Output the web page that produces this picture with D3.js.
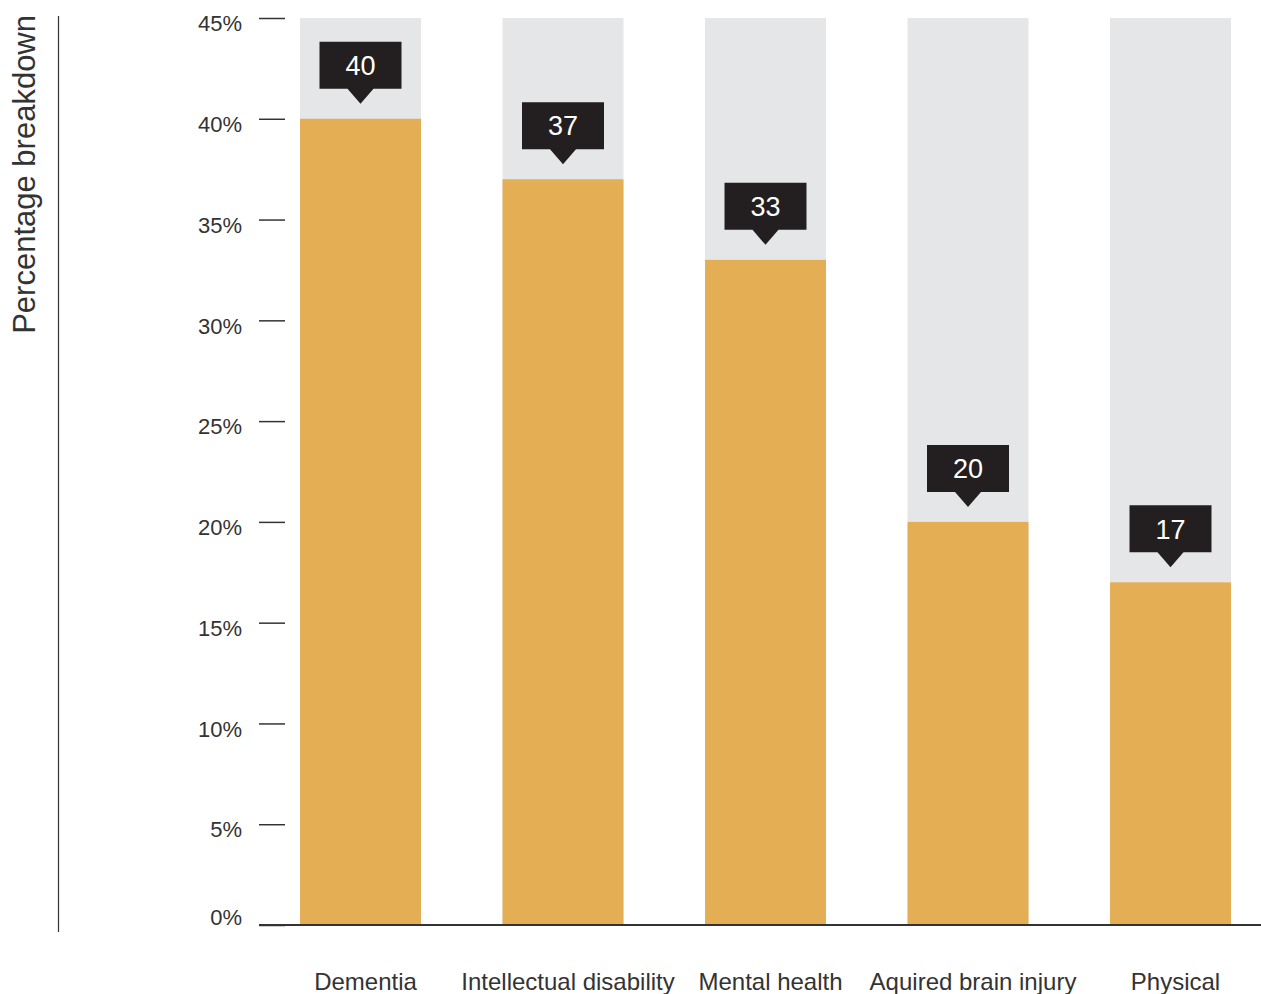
<!DOCTYPE html>
<html>
<head>
<meta charset="utf-8">
<script src="https://cdn.jsdelivr.net/npm/d3@7"></script>
<style>
  html, body { margin: 0; padding: 0; background: #fff; }
  svg text { font-family: "Helvetica Neue", "Liberation Sans", Arial, sans-serif; }
</style>
</head>
<body>
<svg id="chart" width="1261" height="994"></svg>
<script>
// Share of people by disability group
const categories = ["Dementia", "Intellectual disability", "Mental health", "Aquired brain injury", "Physical"];
const values = [40, 37, 33, 20, 17];
const tickValues = [0, 5, 10, 15, 20, 25, 30, 35, 40, 45];
const axisTitle = "Percentage breakdown";

const svg = d3.select("#chart");
const barColor = "#e4ae55";
const trackColor = "#e5e6e8";
const ink = "#333333";
const calloutColor = "#231f20";

const y = d3.scaleLinear().domain([0, 45]).range([925, 18]);
const x = d3.scaleBand().domain(categories)
  .range([259.5, 1271.5])
  .paddingInner(0.4025)
  .paddingOuter(0.2);

// background track behind each bar
svg.append("g").selectAll("rect").data(categories).join("rect")
  .attr("x", d => x(d))
  .attr("width", x.bandwidth())
  .attr("y", y(45))
  .attr("height", y(0) - y(45))
  .attr("fill", trackColor);

// value bars
svg.append("g").selectAll("rect").data(values).join("rect")
  .attr("x", (d, i) => x(categories[i]))
  .attr("width", x.bandwidth())
  .attr("y", d => y(d))
  .attr("height", d => y(0) - y(d))
  .attr("fill", barColor);

// y axis: short tick marks with percentage labels
const yAxis = d3.axisLeft(y)
  .tickValues(tickValues)
  .tickSize(26)
  .tickPadding(17)
  .tickFormat(d => d + "%");
const yg = svg.append("g").attr("transform", "translate(285,0)").call(yAxis);
yg.select(".domain").remove();
yg.selectAll(".tick line").attr("stroke", ink).attr("stroke-width", 1.5);
yg.selectAll(".tick text")
  .attr("fill", ink)
  .attr("font-size", 22)
  .attr("font-weight", 300)
  .attr("y", d => (d === 0 ? -8 : 5))
  .attr("dy", "0.35em");

// baseline
svg.append("line")
  .attr("x1", 259).attr("x2", 1261)
  .attr("y1", y(0)).attr("y2", y(0))
  .attr("stroke", ink).attr("stroke-width", 2.2);

// left rule next to the axis title
svg.append("line")
  .attr("x1", 58.5).attr("x2", 58.5)
  .attr("y1", 16).attr("y2", 932)
  .attr("stroke", ink).attr("stroke-width", 1.2);

// axis title
svg.append("text")
  .attr("transform", "translate(35,15) rotate(-90)")
  .attr("text-anchor", "end")
  .attr("fill", ink)
  .attr("font-size", 31)
  .attr("font-weight", 300)
  .text(axisTitle);

// category labels
svg.append("g").selectAll("text").data(categories).join("text")
  .attr("x", d => x(d) + x.bandwidth() / 2 + 5)
  .attr("y", 990)
  .attr("text-anchor", "middle")
  .attr("fill", ink)
  .attr("font-size", 24)
  .attr("font-weight", 300)
  .text(d => d);

// value callouts above each bar
const boxW = 82, boxH = 47, tipH = 15, tipHalf = 13, gap = 15;
const callouts = svg.append("g").selectAll("g").data(values).join("g")
  .attr("transform", (d, i) => `translate(${x(categories[i]) + x.bandwidth() / 2},${y(d) - gap})`);
callouts.append("path")
  .attr("d", `M${-boxW / 2},${-tipH - boxH} H${boxW / 2} V${-tipH} H${tipHalf} L0,0 L${-tipHalf},${-tipH} H${-boxW / 2} Z`)
  .attr("fill", calloutColor);
callouts.append("text")
  .attr("x", 0)
  .attr("y", -tipH - boxH / 2)
  .attr("dy", "0.36em")
  .attr("text-anchor", "middle")
  .attr("fill", "#fff")
  .attr("font-size", 27)
  .attr("font-weight", 300)
  .text(d => d);
</script>
</body>
</html>
